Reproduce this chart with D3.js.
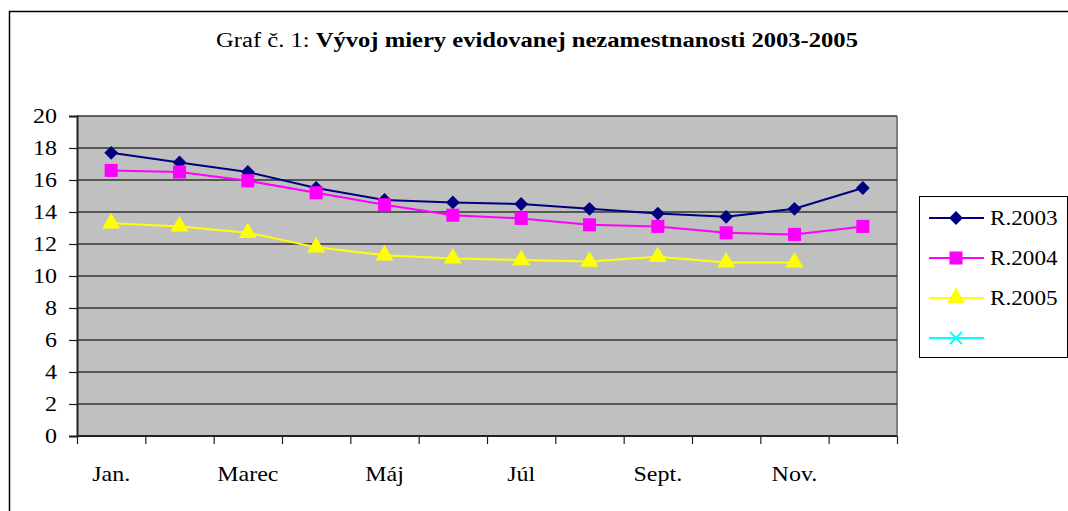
<!DOCTYPE html>
<html>
<head>
<meta charset="utf-8">
<script src="https://cdn.jsdelivr.net/npm/d3@7"></script>
<style>
  body { margin: 0; background: #fff; }
  svg { display: block; font-family: "Times New Roman", "Liberation Serif", serif; }
  svg text { font-family: "Times New Roman", "Liberation Serif", serif; }
</style>
</head>
<body>
<svg id="chart" width="1068" height="511"></svg>
<script>
const months = ["Jan.", "Feb.", "Marec", "Apríl", "Máj", "Jún", "Júl", "Aug.", "Sept.", "Okt.", "Nov.", "Dec."];
const shownMonths = ["Jan.", "Marec", "Máj", "Júl", "Sept.", "Nov."];
const yTicks = [0, 2, 4, 6, 8, 10, 12, 14, 16, 18, 20];

const r2003 = [17.7, 17.1, 16.5, 15.5, 14.75, 14.6, 14.5, 14.2, 13.9, 13.7, 14.2, 15.5];
const r2004 = [16.6, 16.5, 15.95, 15.2, 14.45, 13.8, 13.6, 13.2, 13.1, 12.7, 12.6, 13.1];
const r2005 = [13.3, 13.1, 12.7, 11.8, 11.3, 11.1, 11.0, 10.9, 11.2, 10.85, 10.85, null];

const seriesNames = ["R.2003", "R.2004", "R.2005", ""];
const seriesColors = ["#000080", "#ff00ff", "#ffff00", "#00ffff"];
const seriesSymbols = ["diamond", "square", "triangle", "cross"];

const titlePlain = "Graf č. 1: ";
const titleBold = "Vývoj miery evidovanej nezamestnanosti 2003-2005";

const plot = { left: 77, right: 897, top: 116, bottom: 436 };
const stretch = 1.2; // the source text is wider than its height suggests

const svg = d3.select("#chart");

// widen a text horizontally around its anchor point
function widen(sel, ax, ay, k) {
    sel.attr("transform", "translate(" + ax + "," + ay + ") scale(" + k + ",1) translate(" + (-ax) + "," + (-ay) + ")");
}

// outer frame (only top and left edges are in view)
svg.append("path")
    .attr("d", "M9.5,511 V11.5 H1068")
    .attr("fill", "none")
    .attr("stroke", "#000")
    .attr("stroke-width", 1.5);

// title
const title = svg.append("text")
    .attr("x", 537)
    .attr("y", 47)
    .attr("text-anchor", "middle")
    .style("font-size", "20px");
title.append("tspan").text(titlePlain);
title.append("tspan").style("font-weight", "bold").text(titleBold);
widen(title, 537, 47, 1.23);

const x = d3.scaleBand().domain(months).range([plot.left, plot.right]);
const xEdges = d3.scaleLinear().domain([0, months.length]).range([plot.left, plot.right]);
const y = d3.scaleLinear().domain([0, 20]).range([plot.bottom, plot.top]);

// plot background
svg.append("rect")
    .attr("x", plot.left).attr("y", plot.top)
    .attr("width", plot.right - plot.left)
    .attr("height", plot.bottom - plot.top)
    .attr("fill", "#c0c0c0");

// right border of plot area
svg.append("line")
    .attr("x1", plot.right).attr("x2", plot.right)
    .attr("y1", plot.top).attr("y2", plot.bottom)
    .attr("stroke", "#808080").attr("stroke-width", 2);

// gridlines
svg.append("g")
  .selectAll("line")
  .data(yTicks.filter(d => d > 0))
  .join("line")
    .attr("x1", plot.left).attr("x2", plot.right)
    .attr("y1", d => y(d)).attr("y2", d => y(d))
    .attr("stroke", "#333").attr("stroke-width", 1.5);

// y axis
const yAxis = svg.append("g")
    .attr("transform", "translate(" + plot.left + ",0)")
    .call(d3.axisLeft(y).tickValues(yTicks).tickSize(8).tickPadding(12));
yAxis.attr("font-family", null);
yAxis.select(".domain").attr("stroke", "#222").attr("stroke-width", 2);
yAxis.selectAll(".tick line").attr("stroke", "#222").attr("stroke-width", 1.2);
yAxis.selectAll(".tick text")
    .attr("fill", "#000")
    .style("font-size", "20px")
    .each(function () {
        widen(d3.select(this), -20, 0, stretch);
    });

// x axis (ticks at category edges)
const xAxis = svg.append("g")
    .attr("transform", "translate(0," + plot.bottom + ")")
    .call(d3.axisBottom(xEdges).tickValues(d3.range(months.length + 1)).tickSize(8).tickFormat(""));
xAxis.select(".domain").attr("stroke", "#222").attr("stroke-width", 2).attr("d", "M" + plot.left + ",0H" + plot.right);
xAxis.selectAll(".tick line").attr("stroke", "#222").attr("stroke-width", 1.2);

svg.append("g")
  .selectAll("text")
  .data(shownMonths)
  .join("text")
    .attr("x", d => x(d) + x.bandwidth() / 2)
    .attr("y", 481)
    .attr("text-anchor", "middle")
    .style("font-size", "20px")
    .text(d => d)
    .each(function (d) {
        widen(d3.select(this), x(d) + x.bandwidth() / 2, 481, stretch);
    });

// series
const allSeries = [r2003, r2004, r2005];
const symbolTypes = {
    diamond: d3.symbolSquare,
    square: d3.symbolSquare,
    triangle: d3.symbolTriangle,
    cross: d3.symbolX
};
const symbolSizes = { diamond: 95, square: 170, triangle: 140, cross: 100 };
const symbolRotate = { diamond: 45, square: 0, triangle: 0, cross: 0 };

function markerPath(kind) {
    return d3.symbol().type(symbolTypes[kind]).size(symbolSizes[kind])();
}

const line = d3.line()
    .defined(d => d != null)
    .x((d, i) => x(months[i]) + x.bandwidth() / 2)
    .y(d => y(d));

allSeries.forEach((values, s) => {
    const kind = seriesSymbols[s];
    svg.append("path")
        .attr("d", line(values))
        .attr("fill", "none")
        .attr("stroke", seriesColors[s])
        .attr("stroke-width", 2);
    svg.append("g")
      .selectAll("path")
      .data(values.map((v, i) => ({ v, i })).filter(d => d.v != null))
      .join("path")
        .attr("d", markerPath(kind))
        .attr("transform", d => "translate(" + (x(months[d.i]) + x.bandwidth() / 2) + "," + y(d.v) + ") rotate(" + symbolRotate[kind] + ")")
        .attr("fill", seriesColors[s]);
});

// legend
const legend = svg.append("g");
legend.append("rect")
    .attr("x", 919.5).attr("y", 196.5)
    .attr("width", 148).attr("height", 161)
    .attr("fill", "#fff").attr("stroke", "#000").attr("stroke-width", 1);

seriesNames.forEach((name, s) => {
    const kind = seriesSymbols[s];
    const ly = 218 + s * 40;
    legend.append("line")
        .attr("x1", 929).attr("x2", 984)
        .attr("y1", ly).attr("y2", ly)
        .attr("stroke", seriesColors[s]).attr("stroke-width", 2);
    const m = legend.append("path")
        .attr("d", markerPath(kind))
        .attr("transform", "translate(956," + ly + ") rotate(" + symbolRotate[kind] + ")");
    if (kind === "cross") {
        m.attr("fill", "none").attr("stroke", seriesColors[s]).attr("stroke-width", 2);
    } else {
        m.attr("fill", seriesColors[s]);
    }
    const t = legend.append("text")
        .attr("x", 990).attr("y", ly + 7)
        .style("font-size", "20px")
        .text(name);
    widen(t, 990, ly + 7, 1.16);
});
</script>
</body>
</html>
